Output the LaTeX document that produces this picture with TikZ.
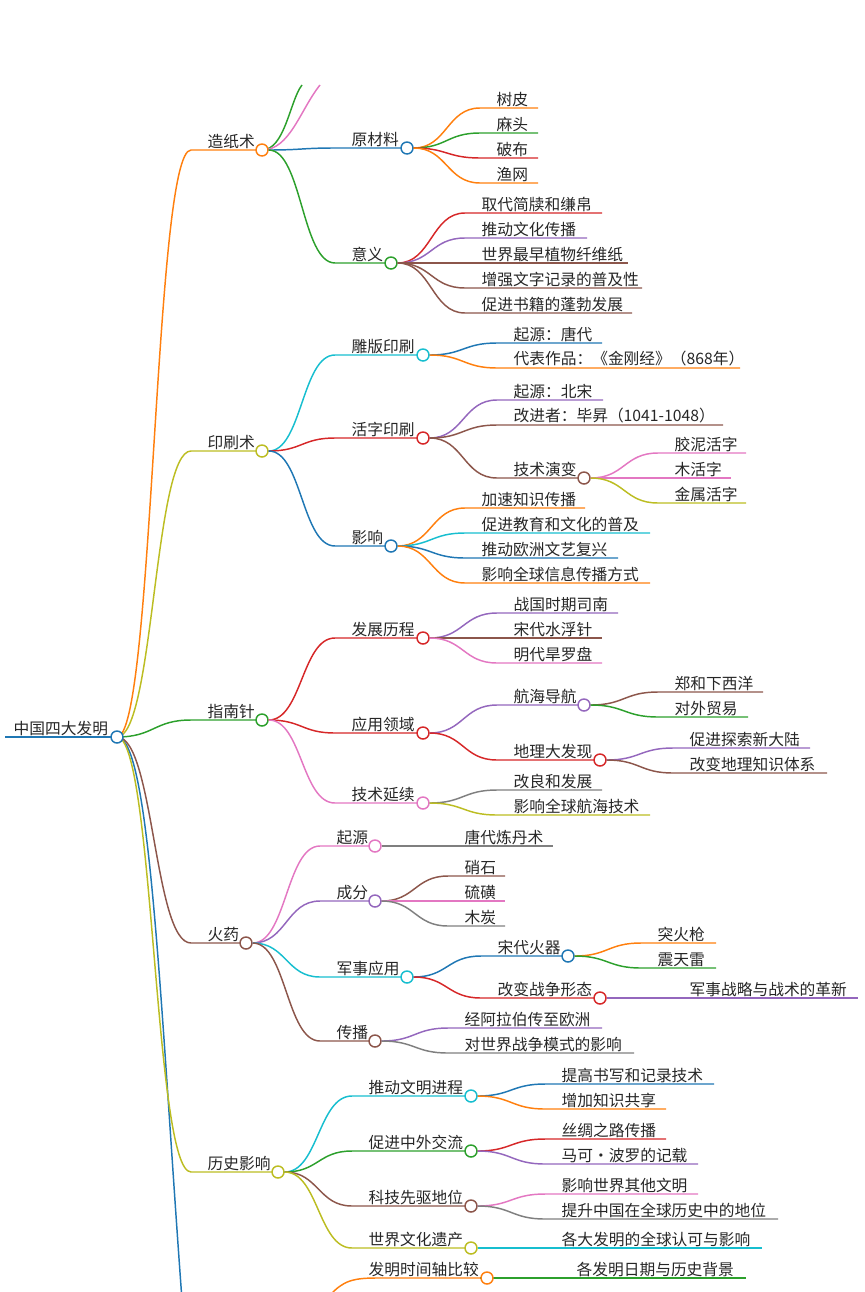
\documentclass[tikz,border=0pt]{standalone}
\usepackage{fontspec}
\setmainfont{Noto Sans CJK SC}
\usetikzlibrary{positioning,calc}
\definecolor{cOr}{HTML}{FF7F0E}
\definecolor{cGr}{HTML}{2CA02C}
\definecolor{cRe}{HTML}{D62728}
\definecolor{cPu}{HTML}{9467BD}
\definecolor{cBr}{HTML}{8C564B}
\definecolor{cPi}{HTML}{E377C2}
\definecolor{cGy}{HTML}{7F7F7F}
\definecolor{cOl}{HTML}{BCBD22}
\definecolor{cCy}{HTML}{17BECF}
\definecolor{cBl}{HTML}{1F77B4}
\tikzset{
  branch/.style={line width=1.1pt},
  labeltext/.style={font=\fontsize{11.8}{13}\selectfont, inner sep=1pt, anchor=south west, text=black!85},
  knob/.style={circle, line width=1.1pt, fill=white, minimum size=9pt, inner sep=0pt}
}
% #1 name, #2 parent, #3 colour, #4 text x, #5 y, #6 line end x, #7 text
\newcommand\idea[7]{%
  \coordinate (#1) at (#4-15,#5);
  \node[labeltext] (#1-t) at (#4,#5) {#7};
  \draw[branch,#3] let \p1=(#2), \p2=(#1) in
    (\p1) .. controls (\x1/2+\x2/2,\y1) and (\x1/2+\x2/2,\y2) .. (\p2) -- (#6,#5);
}
\newcommand\knob[3]{\node[knob,draw=#2] (#1-c) at (#3) {};}
\begin{document}
\begin{tikzpicture}[x=0.75pt,y=-0.75pt]
\useasboundingbox (0,0) rectangle (864,1292);
\clip (0,0) rectangle (864,1292);
% root
\node[labeltext] (root-t) at (12,737) {中国四大发明};
\draw[cBl, line width=2.2pt] (5,737) -- (117,737);
\coordinate (root) at (117,737);
\coordinate (down) at (182,1300);
\draw[branch,cBl] (root) .. controls (150,737) and (160,1000) .. (down);
% level 1
\idea{zz}{root}{cOr}{206}{150}{262}{造纸术}
\idea{ys}{root}{cOl}{206}{451}{262}{印刷术}
\idea{zn}{root}{cGr}{206}{720}{262}{指南针}
\idea{hy}{root}{cBr}{206}{943}{246}{火药}
\idea{ls}{root}{cOl}{206}{1172}{278}{历史影响}
\knob{root}{cBl}{117,737}
% paper
\coordinate (up1) at (302,85);
\coordinate (up2) at (320,85);
\draw[branch,cGr] (262,150) .. controls (285,150) and (290,100) .. (up1);
\draw[branch,cPi] (262,150) .. controls (290,150) and (300,110) .. (up2);
\knob{zz}{cOr}{262,150}
\idea{ycl}{zz-c.east}{cBl}{350}{148}{407}{原材料}
\idea{yy}{zz-c.east}{cGr}{350}{263}{391}{意义}
\knob{ycl}{cBl}{407,148}
\knob{yy}{cGr}{391,263}
\idea{a1}{ycl-c.east}{cOr}{495}{108}{538}{树皮}
\idea{a2}{ycl-c.east}{cGr}{495}{133}{538}{麻头}
\idea{a3}{ycl-c.east}{cRe}{495}{158}{538}{破布}
\idea{a4}{ycl-c.east}{cOr}{495}{183}{538}{渔网}
\idea{b1}{yy-c.east}{cRe}{480}{213}{602}{取代简牍和缣帛}
\idea{b2}{yy-c.east}{cPu}{480}{238}{587}{推动文化传播}
\idea{b3}{yy-c.east}{cBr}{480}{263}{628}{世界最早植物纤维纸}
\idea{b4}{yy-c.east}{cBr}{480}{288}{642}{增强文字记录的普及性}
\idea{b5}{yy-c.east}{cBr}{480}{313}{632}{促进书籍的蓬勃发展}
% printing
\knob{ys}{cOl}{262,451}
\idea{db}{ys-c.east}{cCy}{350}{355}{423}{雕版印刷}
\idea{hz}{ys-c.east}{cRe}{350}{438}{423}{活字印刷}
\idea{yx}{ys-c.east}{cBl}{350}{546}{391}{影响}
\knob{db}{cCy}{423,355}
\knob{hz}{cRe}{423,438}
\knob{yx}{cBl}{391,546}
\idea{c1}{db-c.east}{cBl}{512}{343}{602}{起源：唐代}
\idea{c2}{db-c.east}{cOr}{512}{368}{740}{代表作品：《金刚经》（868年）}
\idea{d1}{hz-c.east}{cPu}{512}{400}{603}{起源：北宋}
\idea{d2}{hz-c.east}{cBr}{512}{425}{723}{改进者：毕昇（1041-1048）}
\idea{jy}{hz-c.east}{cBr}{512}{478}{584}{技术演变}
\knob{jy}{cBr}{584,478}
\idea{e1}{jy-c.east}{cPi}{673}{453}{746}{胶泥活字}
\idea{e2}{jy-c.east}{cPi}{673}{478}{731}{木活字}
\idea{e3}{jy-c.east}{cOl}{673}{503}{746}{金属活字}
\idea{f1}{yx-c.east}{cOr}{480}{508}{585}{加速知识传播}
\idea{f2}{yx-c.east}{cCy}{480}{533}{650}{促进教育和文化的普及}
\idea{f3}{yx-c.east}{cBl}{480}{558}{618}{推动欧洲文艺复兴}
\idea{f4}{yx-c.east}{cOr}{480}{583}{650}{影响全球信息传播方式}
% compass
\knob{zn}{cGr}{262,720}
\idea{fz}{zn-c.east}{cRe}{350}{638}{423}{发展历程}
\idea{yy2}{zn-c.east}{cRe}{350}{733}{423}{应用领域}
\idea{jx}{zn-c.east}{cPi}{350}{803}{423}{技术延续}
\knob{fz}{cRe}{423,638}
\knob{yy2}{cRe}{423,733}
\knob{jx}{cPi}{423,803}
\idea{g1}{fz-c.east}{cPu}{512}{613}{618}{战国时期司南}
\idea{g2}{fz-c.east}{cBr}{512}{638}{602}{宋代水浮针}
\idea{g3}{fz-c.east}{cPi}{512}{663}{602}{明代旱罗盘}
\idea{hh}{yy2-c.east}{cPu}{512}{705}{584}{航海导航}
\idea{dl}{yy2-c.east}{cRe}{512}{760}{600}{地理大发现}
\knob{hh}{cPu}{584,705}
\knob{dl}{cRe}{600,760}
\idea{h1}{hh-c.east}{cBr}{673}{692}{763}{郑和下西洋}
\idea{h2}{hh-c.east}{cGr}{673}{717}{748}{对外贸易}
\idea{i1}{dl-c.east}{cPu}{688}{748}{810}{促进探索新大陆}
\idea{i2}{dl-c.east}{cBr}{688}{773}{827}{改变地理知识体系}
\idea{j1}{jx-c.east}{cGy}{512}{790}{602}{改良和发展}
\idea{j2}{jx-c.east}{cOl}{512}{815}{650}{影响全球航海技术}
% gunpowder
\knob{hy}{cBr}{246,943}
\idea{qy}{hy-c.east}{cPi}{335}{846}{375}{起源}
\idea{cf}{hy-c.east}{cPu}{335}{901}{375}{成分}
\idea{js}{hy-c.east}{cCy}{335}{977}{407}{军事应用}
\idea{cb}{hy-c.east}{cBr}{335}{1041}{375}{传播}
\knob{qy}{cPi}{375,846}
\knob{cf}{cPu}{375,901}
\knob{js}{cCy}{407,977}
\knob{cb}{cBr}{375,1041}
\idea{k1}{qy-c.east}{cGy}{463}{846}{553}{唐代炼丹术}
\idea{l1}{cf-c.east}{cBr}{463}{876}{505}{硝石}
\idea{l2}{cf-c.east}{cPi}{463}{901}{505}{硫磺}
\idea{l3}{cf-c.east}{cGy}{463}{926}{505}{木炭}
\idea{sh}{js-c.east}{cBl}{496}{956}{568}{宋代火器}
\idea{gb}{js-c.east}{cRe}{496}{998}{600}{改变战争形态}
\knob{sh}{cBl}{568,956}
\knob{gb}{cRe}{600,998}
\idea{m1}{sh-c.east}{cOr}{656}{943}{716}{突火枪}
\idea{m2}{sh-c.east}{cGr}{656}{968}{716}{震天雷}
\idea{n1}{gb-c.east}{cPu}{688}{998}{858}{军事战略与战术的革新}
\idea{o1}{cb-c.east}{cPu}{463}{1028}{602}{经阿拉伯传至欧洲}
\idea{o2}{cb-c.east}{cGy}{463}{1053}{634}{对世界战争模式的影响}
% history
\knob{ls}{cOl}{278,1172}
\idea{tw}{ls-c.east}{cCy}{367}{1096}{471}{推动文明进程}
\idea{cj}{ls-c.east}{cGr}{367}{1151}{471}{促进中外交流}
\idea{kj}{ls-c.east}{cBr}{367}{1206}{471}{科技先驱地位}
\idea{sj}{ls-c.east}{cOl}{367}{1248}{471}{世界文化遗产}
\coordinate (low) at (325,1300);
\draw[branch,cOr] (low) .. controls (340,1285) and (345,1278) .. (375,1278) -- (487,1278);
\node[labeltext] (sz-t) at (367,1278) {发明时间轴比较};
\knob{tw}{cCy}{471,1096}
\knob{cj}{cGr}{471,1151}
\knob{kj}{cBr}{471,1206}
\knob{sj}{cOl}{471,1248}
\idea{p1}{tw-c.east}{cBl}{560}{1084}{714}{提高书写和记录技术}
\idea{p2}{tw-c.east}{cOr}{560}{1109}{666}{增加知识共享}
\idea{q1}{cj-c.east}{cRe}{560}{1139}{666}{丝绸之路传播}
\idea{q2}{cj-c.east}{cPu}{560}{1164}{698}{马可·波罗的记载}
\idea{r1}{kj-c.east}{cPi}{560}{1194}{698}{影响世界其他文明}
\idea{r2}{kj-c.east}{cGy}{560}{1219}{778}{提升中国在全球历史中的地位}
\idea{s1}{sj-c.east}{cCy}{560}{1248}{762}{各大发明的全球认可与影响}
\idea{t1}{sz-t.south east}{cGr}{575}{1278}{746}{各发明日期与历史背景}
\knob{sz}{cOr}{487,1278}
\end{tikzpicture}
\end{document}
